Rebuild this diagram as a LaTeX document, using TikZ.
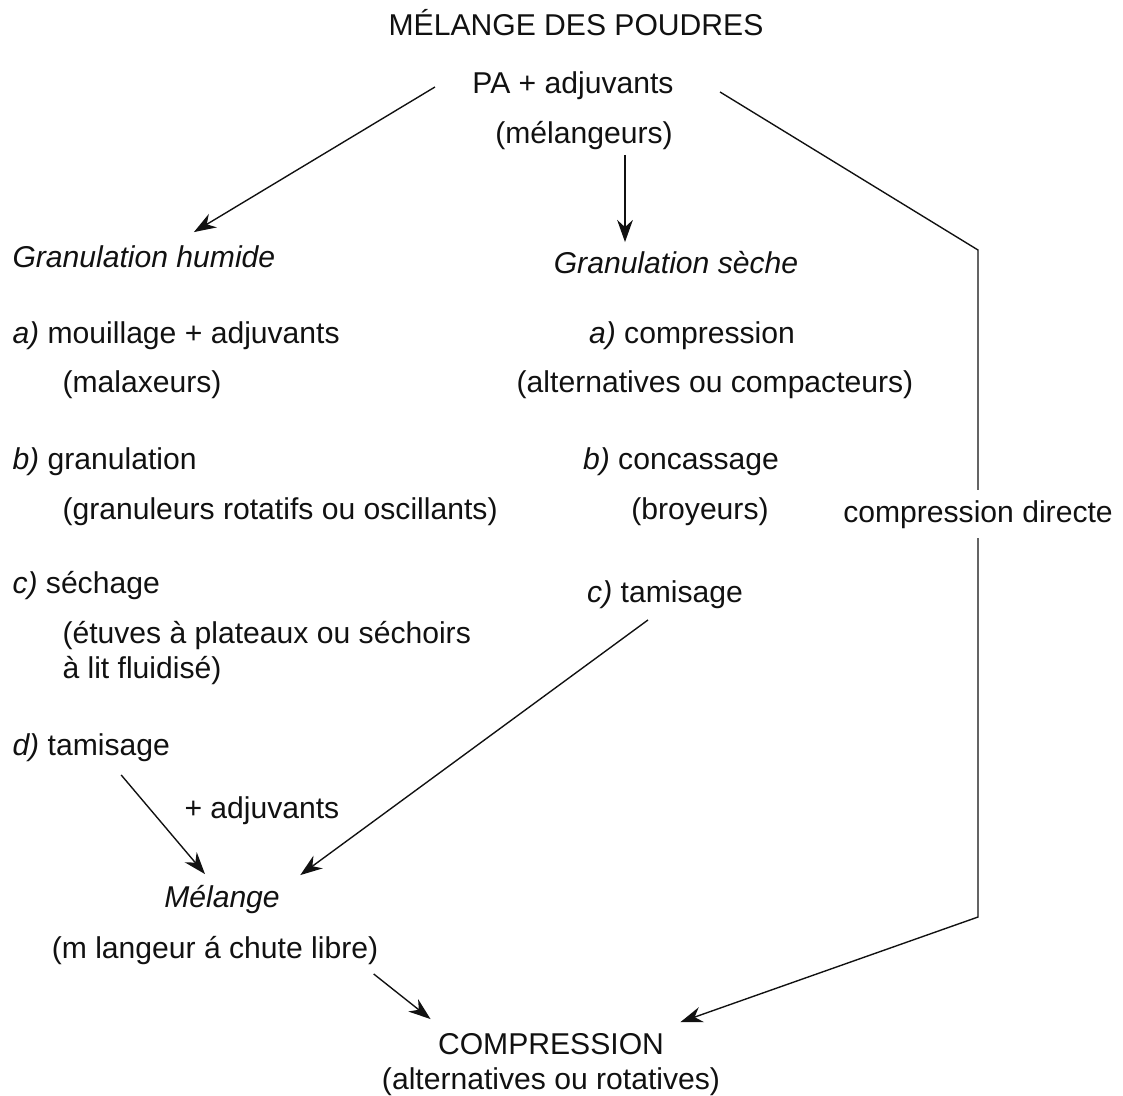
\documentclass[tikz,border=0pt]{standalone}
\usepackage{fontspec}
\setmainfont{Liberation Sans}
\usetikzlibrary{arrows.meta,calc}
\definecolor{ink}{HTML}{111111}
\tikzset{
  texte/.style={inner sep=0pt, text height=9pt, text depth=2.5pt, text=ink, font=\fontsize{12}{14}\selectfont},
  gauche/.style={texte, anchor=west},
  titre/.style={texte, font=\itshape\fontsize{12}{14}\selectfont},
  trait/.style={line width=0.55pt, draw=ink},
  fleche/.style={trait, -{Stealth[length=3.1mm,width=2.2mm,inset=1mm]}}
}

\begin{document}
\begin{tikzpicture}[x=0.014cm, y=-0.014cm]
\useasboundingbox (0,-2) rectangle (1123,1093);
\node[texte] (poudres) at (576,25) {MÉLANGE DES POUDRES};
\node[texte] (pa) at (573,83) {PA + adjuvants};
\node[texte] (melangeurs) at (584,133) {(mélangeurs)};
\node[titre, anchor=west] (humide) at (12,257) {Granulation humide};
\node[titre] (seche) at (676,263) {Granulation sèche};
\node[gauche] (ha) at (12,333) {\textit{a)} mouillage + adjuvants};
\node[gauche] (hamach) at (62,382) {(malaxeurs)};
\node[gauche] (hb) at (12,459) {\textit{b)} granulation};
\node[gauche] (hbmach) at (62,509) {(granuleurs rotatifs ou oscillants)};
\node[gauche] (hc) at (12,583) {\textit{c)} séchage};
\node[gauche, align=left, text height=, text depth=] (hcmach) at (62,651) {(étuves à plateaux ou séchoirs\\à lit fluidisé)};
\node[gauche] (hd) at (12,745) {\textit{d)} tamisage};
\node[gauche] (plusadj) at (184,808) {+ adjuvants};
\node[titre] (melange) at (222,897) {Mélange};
\node[texte] (chute) at (215,948) {(m langeur á chute libre)};
\node[texte] (compression) at (551,1044) {COMPRESSION};
\node[texte] (rotatives) at (551,1079) {(alternatives ou rotatives)};
\node[texte] (sa) at (692,333) {\textit{a)} compression};
\node[texte] (samach) at (715,382) {(alternatives ou compacteurs)};
\node[texte] (sb) at (681,459) {\textit{b)} concassage};
\node[texte] (sbmach) at (700,509) {(broyeurs)};
\node[texte] (sc) at (665,592) {\textit{c)} tamisage};
\coordinate (coinhaut) at (978,248);
\coordinate (coinbas) at (978,915);
\draw[fleche] ($(pa.west)+(-37,2)$) -- ($(humide.north)+(50,-12)$);
\draw[fleche] ($(melangeurs.south)+(41,5)$) -- ($(seche.north)+(-51,-8)$);
\draw[fleche] ($(pa.east)+(46,7)$) -- (coinhaut) -- (coinbas) -- ($(compression.north east)+(16,-9)$);
\node[texte, fill=white, inner ysep=4pt] (directe) at (978,512) {compression directe};
\draw[fleche] ($(hd.south)+(30,13)$) -- ($(melange.north)+(-17,-10)$);
\draw[fleche] ($(sc.south)+(-17,11)$) -- ($(melange.north east)+(20,-9)$);
\draw[fleche] ($(chute.south east)+(-5,9)$) -- ($(compression.north west)+(-7,-12)$);
\end{tikzpicture}
\end{document}
